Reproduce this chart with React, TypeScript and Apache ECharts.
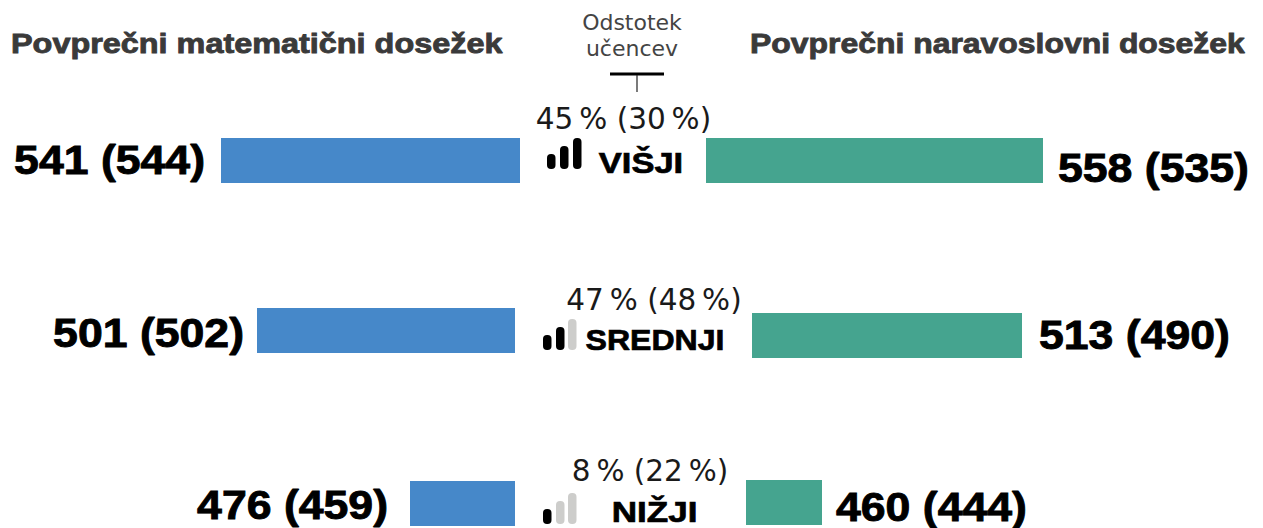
import React, { useEffect, useRef } from "react";
import * as echarts from "echarts";

const levels = ["VIŠJI", "SREDNJI", "NIŽJI"];
const shareLabels = ["45\u202f% (30\u202f%)", "47\u202f% (48\u202f%)", "8\u202f% (22\u202f%)"];
const mathLabels = ["541 (544)", "501 (502)", "476 (459)"];
const scienceLabels = ["558 (535)", "513 (490)", "460 (444)"];
const mathBarLengths = [299, 258, 105];
const scienceBarLengths = [337, 270, 76];
const activeSignalBars = [3, 2, 1];

const BLUE = "#4688c9";
const GREEN = "#45a48f";
const DARK = "#3a3a3a";
const BOLD = "'Liberation Sans', Arial, sans-serif";
const REG = "'DejaVu Sans', sans-serif";

const mathAnchorX = [520, 515, 515];
const mathTopY = [138, 308, 481];
const sciAnchorX = [706, 752, 746];
const sciTopY = [138, 313, 480];
const BAR_H = 45;
const mathLabelRight = [205, 244, 388];
const mathLabelY = [160, 333, 505];
const sciLabelLeft = [1058, 1039, 836];
const sciLabelY = [168, 335, 507];
const shareX = [623.5, 654, 650];
const shareY = [119, 300, 471];
const levelX = [641, 655, 654.5];
const levelY = [163, 340, 511];
const levelScale = [1.15, 1.07, 1.17];
const signalX = [[547, 560, 573], [543, 556, 568], [543, 556, 568]];
const signalBottom = [169, 350, 524];
const signalHeights = [15, 23, 31];

function App() {
  const ref = useRef<HTMLDivElement>(null);
  useEffect(() => {
    document.body.style.margin = "0";
    const chart = echarts.init(ref.current!, undefined, { renderer: "svg" });
    const bigText = (text: string, x: number, y: number, align: string) => ({
      type: "text",
      x,
      y,
      scaleX: 1.115,
      style: {
        text,
        x: 0,
        y: 0,
        align,
        verticalAlign: "middle",
        font: `bold 40px ${BOLD}`,
        fill: "#000",
        stroke: "#000",
        lineWidth: 0.9,
      },
    });
    const graphics: any[] = [];
    graphics.push(
      { type: "text", x: 11, y: 43, scaleX: 1.137, style: { text: "Povprečni matematični dosežek", x: 0, y: 0, verticalAlign: "middle", font: `bold 28.5px ${BOLD}`, fill: DARK, stroke: DARK, lineWidth: 0.9 } },
      { type: "text", x: 750, y: 43, scaleX: 1.12, style: { text: "Povprečni naravoslovni dosežek", x: 0, y: 0, verticalAlign: "middle", font: `bold 28.5px ${BOLD}`, fill: DARK, stroke: DARK, lineWidth: 0.9 } },
      { type: "text", style: { text: "Odstotek", x: 632, y: 22, align: "center", verticalAlign: "middle", font: `22px ${REG}`, fill: "#444" } },
      { type: "text", style: { text: "učencev", x: 632, y: 48, align: "center", verticalAlign: "middle", font: `22px ${REG}`, fill: "#444" } },
      { type: "line", shape: { x1: 610, y1: 74, x2: 664, y2: 74 }, style: { stroke: "#000", lineWidth: 3 } },
      { type: "line", shape: { x1: 637, y1: 75, x2: 637, y2: 92 }, style: { stroke: "#222", lineWidth: 1.2 } },
    );
    levels.forEach((lvl, i) => {
      graphics.push(bigText(mathLabels[i], mathLabelRight[i], mathLabelY[i], "right"));
      graphics.push(bigText(scienceLabels[i], sciLabelLeft[i], sciLabelY[i], "left"));
      graphics.push({ type: "text", style: { text: shareLabels[i], x: shareX[i], y: shareY[i], align: "center", verticalAlign: "middle", font: `29.5px ${REG}`, fill: "#1a1a1a" } });
      graphics.push({ type: "text", x: levelX[i], y: levelY[i], scaleX: levelScale[i], style: { text: lvl, x: 0, y: 0, align: "center", verticalAlign: "middle", font: `bold 30px ${BOLD}`, fill: "#000", stroke: "#000", lineWidth: 0.7 } });
      signalHeights.forEach((h, k) => {
        graphics.push({
          type: "rect",
          shape: { x: signalX[i][k], y: signalBottom[i] - h, width: 8.5, height: h, r: 4 },
          style: { fill: k < activeSignalBars[i] ? "#000" : "#cdcdcb" },
        });
      });
    });
    const barSeries = (name: string, lengths: number[], color: string, side: "left" | "right") => ({
      type: "custom",
      name,
      coordinateSystem: "cartesian2d",
      data: lengths.map((len, i) =>
        side === "left"
          ? [mathAnchorX[i] - len, mathAnchorX[i], mathTopY[i]]
          : [sciAnchorX[i], sciAnchorX[i] + len, sciTopY[i]]
      ),
      encode: { x: [0, 1], y: 2 },
      silent: true,
      renderItem: (_: any, api: any) => {
        const a = api.coord([api.value(0), api.value(2)]);
        const b = api.coord([api.value(1), api.value(2) + BAR_H]);
        return { type: "rect", shape: { x: a[0], y: a[1], width: b[0] - a[0], height: b[1] - a[1] }, style: { fill: color } };
      },
    });
    chart.setOption({
      animation: false,
      grid: { left: 0, right: 0, top: 0, bottom: 0 },
      xAxis: { type: "value", min: 0, max: 1263, show: false },
      yAxis: { type: "value", min: 0, max: 528, inverse: true, show: false },
      series: [
        barSeries("Povprečni matematični dosežek", mathBarLengths, BLUE, "left"),
        barSeries("Povprečni naravoslovni dosežek", scienceBarLengths, GREEN, "right"),
      ],
      graphic: graphics,
    });
    return () => chart.dispose();
  }, []);
  return <div ref={ref} style={{ width: 1263, height: 528 }} />;
}

export default App;
